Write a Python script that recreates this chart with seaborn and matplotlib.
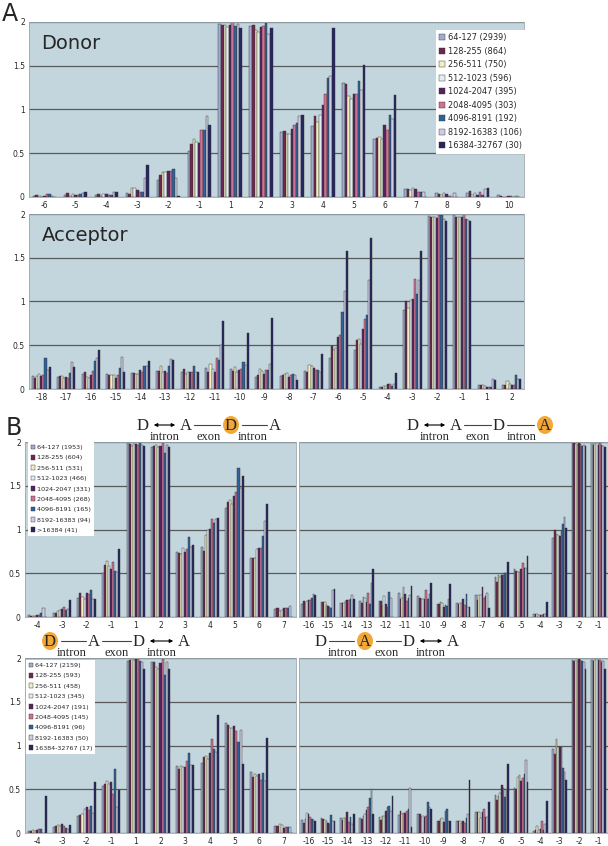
import pandas as pd
import matplotlib.pyplot as plt
import seaborn as sns
from matplotlib.patches import Ellipse, FancyArrowPatch
from matplotlib.lines import Line2D

# size bins (9 series) and their colours
colors = ['#98a8d8', '#7b1c4e', '#f8f4b8', '#dff1f5', '#5a1a6a',
          '#e06090', '#1f5fad', '#c8c8e8', '#1c1c6a']
bins = ['64-127', '128-255', '256-511', '512-1023', '1024-2047',
        '2048-4095', '4096-8191', '8192-16383', '16384-32767']
legend_a = ['2939', '864', '750', '596', '395', '303', '192', '106', '30']
legend_bt = ['1953', '604', '531', '466', '331', '268', '165', '94', '41']
legend_bb = ['2159', '593', '458', '345', '191', '145', '96', '50', '17']

# ---- panel A, donor
donor_pos = ['-6', '-5', '-4', '-3', '-2', '-1', '1', '2', '3', '4', '5', '6', '7', '8', '9', '10']
donor = [
    [0.01, 0.02, 0.01, 0.00, 0.01, 0.03, 0.03, 0.01, 0.00],
    [0.02, 0.05, 0.01, 0.03, 0.02, 0.02, 0.03, 0.04, 0.06],
    [0.02, 0.03, 0.01, 0.03, 0.03, 0.02, 0.02, 0.06, 0.06],
    [0.05, 0.03, 0.10, 0.10, 0.08, 0.06, 0.06, 0.22, 0.36],
    [0.19, 0.25, 0.29, 0.28, 0.30, 0.30, 0.32, 0.22, 0.01],
    [0.52, 0.60, 0.66, 0.63, 0.62, 0.76, 0.76, 0.92, 0.82],
    [1.98, 1.97, 1.97, 1.94, 1.96, 2.00, 1.95, 1.98, 1.93],
    [1.95, 1.96, 1.91, 1.89, 1.94, 1.95, 1.99, 1.86, 1.93],
    [0.74, 0.75, 0.72, 0.72, 0.78, 0.82, 0.85, 0.93, 0.94],
    [0.81, 0.92, 0.86, 0.94, 1.05, 1.18, 1.36, 1.38, 1.93],
    [1.30, 1.29, 1.15, 1.12, 1.18, 1.18, 1.32, 1.22, 1.51],
    [0.66, 0.67, 0.68, 0.66, 0.82, 0.77, 0.94, 0.89, 1.16],
    [0.09, 0.09, 0.08, 0.10, 0.09, 0.06, 0.06, 0.06, 0.00],
    [0.04, 0.03, 0.02, 0.04, 0.03, 0.01, 0.00, 0.04, 0.00],
    [0.04, 0.07, 0.02, 0.04, 0.02, 0.06, 0.02, 0.09, 0.10],
    [0.02, 0.01, 0.00, 0.00, 0.01, 0.01, 0.00, 0.01, 0.00],
]

# ---- panel A, acceptor
acc_pos = ['-18', '-17', '-16', '-15', '-14', '-13', '-12', '-11', '-10', '-9',
           '-8', '-7', '-6', '-5', '-4', '-3', '-2', '-1', '1', '2']
acceptor = [
    [0.15, 0.13, 0.15, 0.17, 0.15, 0.16, 0.35, 0.22, 0.25],
    [0.14, 0.15, 0.15, 0.13, 0.14, 0.13, 0.18, 0.31, 0.25],
    [0.17, 0.20, 0.14, 0.13, 0.16, 0.21, 0.32, 0.36, 0.45],
    [0.17, 0.16, 0.16, 0.16, 0.13, 0.16, 0.24, 0.37, 0.19],
    [0.18, 0.18, 0.17, 0.17, 0.22, 0.20, 0.26, 0.26, 0.32],
    [0.21, 0.21, 0.26, 0.20, 0.21, 0.18, 0.26, 0.34, 0.33],
    [0.19, 0.23, 0.17, 0.20, 0.19, 0.19, 0.26, 0.19, 0.19],
    [0.24, 0.20, 0.29, 0.23, 0.19, 0.36, 0.33, 0.50, 0.78],
    [0.23, 0.21, 0.25, 0.19, 0.22, 0.23, 0.31, 0.27, 0.64],
    [0.14, 0.16, 0.23, 0.21, 0.17, 0.22, 0.22, 0.29, 0.81],
    [0.15, 0.16, 0.17, 0.18, 0.14, 0.16, 0.17, 0.16, 0.10],
    [0.21, 0.20, 0.28, 0.26, 0.24, 0.22, 0.22, 0.20, 0.40],
    [0.35, 0.49, 0.45, 0.47, 0.59, 0.62, 0.88, 1.12, 1.58],
    [0.45, 0.56, 0.57, 0.52, 0.68, 0.80, 0.85, 1.25, 1.72],
    [0.02, 0.02, 0.03, 0.04, 0.06, 0.06, 0.04, 0.06, 0.18],
    [0.90, 1.00, 0.93, 1.02, 1.03, 1.26, 1.08, 1.24, 1.58],
    [1.98, 1.97, 1.96, 1.96, 1.95, 1.99, 1.99, 1.94, 1.92],
    [1.99, 1.96, 1.96, 1.97, 1.96, 2.00, 1.94, 1.93, 1.92],
    [0.05, 0.05, 0.05, 0.03, 0.02, 0.02, 0.02, 0.11, 0.10],
    [0.05, 0.05, 0.09, 0.06, 0.05, 0.05, 0.16, 0.12, 0.12],
]

# ---- panel B, left side (donor of upstream/downstream exon)
b_left_pos = ['-4', '-3', '-2', '-1', '1', '2', '3', '4', '5', '6', '7']
b_top_left = [
    [0.02, 0.01, 0.01, 0.01, 0.02, 0.02, 0.05, 0.10, 0.00],
    [0.05, 0.05, 0.07, 0.08, 0.09, 0.11, 0.08, 0.09, 0.20],
    [0.22, 0.27, 0.23, 0.21, 0.28, 0.26, 0.31, 0.21, 0.21],
    [0.50, 0.60, 0.64, 0.58, 0.55, 0.63, 0.53, 0.52, 0.78],
    [1.99, 1.98, 1.95, 1.98, 1.98, 1.97, 1.99, 1.97, 1.95],
    [1.94, 1.96, 1.97, 1.94, 1.96, 1.99, 1.88, 1.97, 1.94],
    [0.74, 0.73, 0.72, 0.79, 0.74, 0.78, 0.92, 0.80, 0.82],
    [0.80, 0.75, 0.94, 1.00, 1.01, 1.12, 1.08, 1.12, 1.13],
    [1.25, 1.31, 1.34, 1.29, 1.38, 1.43, 1.70, 1.48, 1.61],
    [0.67, 0.68, 0.68, 0.78, 0.79, 0.79, 0.93, 1.10, 1.29],
    [0.09, 0.10, 0.07, 0.08, 0.10, 0.10, 0.10, 0.13, 0.00],
]
b_bot_left = [
    [0.02, 0.02, 0.03, 0.02, 0.04, 0.05, 0.05, 0.00, 0.42],
    [0.07, 0.08, 0.09, 0.08, 0.10, 0.08, 0.06, 0.05, 0.09],
    [0.20, 0.21, 0.22, 0.28, 0.30, 0.26, 0.31, 0.23, 0.58],
    [0.54, 0.56, 0.60, 0.56, 0.58, 0.45, 0.73, 0.30, 0.49],
    [1.97, 1.98, 1.99, 1.98, 1.99, 1.99, 1.97, 1.95, 1.87],
    [1.95, 1.96, 1.90, 1.88, 1.94, 1.99, 1.81, 1.96, 1.87],
    [0.77, 0.73, 0.77, 0.75, 0.76, 0.82, 0.91, 0.78, 0.78],
    [0.80, 0.87, 0.88, 0.85, 0.92, 1.07, 0.96, 0.93, 1.35],
    [1.26, 1.23, 1.20, 1.20, 1.22, 1.17, 1.04, 1.18, 0.79],
    [0.70, 0.64, 0.68, 0.65, 0.68, 0.61, 0.69, 0.60, 1.09],
    [0.08, 0.08, 0.10, 0.09, 0.06, 0.07, 0.07, 0.07, 0.00],
]

# ---- panel B, right side (acceptor)
b_right_pos = ['-16', '-15', '-14', '-13', '-12', '-11', '-10', '-9',
               '-8', '-7', '-6', '-5', '-4', '-3', '-2', '-1']
b_top_right = [
    [0.15, 0.18, 0.16, 0.18, 0.20, 0.20, 0.22, 0.26, 0.25],
    [0.17, 0.17, 0.17, 0.14, 0.13, 0.12, 0.10, 0.31, 0.32],
    [0.16, 0.16, 0.16, 0.18, 0.19, 0.20, 0.21, 0.25, 0.21],
    [0.18, 0.16, 0.23, 0.22, 0.17, 0.28, 0.15, 0.39, 0.55],
    [0.18, 0.18, 0.13, 0.24, 0.15, 0.12, 0.29, 0.22, 0.00],
    [0.27, 0.21, 0.22, 0.34, 0.26, 0.18, 0.22, 0.25, 0.36],
    [0.24, 0.22, 0.21, 0.21, 0.21, 0.31, 0.21, 0.26, 0.39],
    [0.15, 0.15, 0.17, 0.16, 0.11, 0.14, 0.13, 0.21, 0.38],
    [0.16, 0.15, 0.16, 0.16, 0.21, 0.14, 0.26, 0.11, 0.11],
    [0.25, 0.20, 0.25, 0.25, 0.34, 0.22, 0.24, 0.27, 0.10],
    [0.46, 0.40, 0.48, 0.46, 0.48, 0.48, 0.50, 0.50, 0.63],
    [0.55, 0.53, 0.51, 0.52, 0.55, 0.62, 0.56, 0.56, 0.70],
    [0.03, 0.03, 0.03, 0.02, 0.02, 0.02, 0.03, 0.04, 0.17],
    [0.90, 1.00, 0.95, 0.94, 0.93, 0.98, 1.06, 1.14, 1.02],
    [2.00, 1.99, 1.98, 1.97, 1.99, 1.98, 1.96, 1.97, 1.95],
    [2.00, 1.97, 1.98, 1.99, 1.97, 1.99, 1.97, 1.96, 1.94],
]
b_bot_right = [
    [0.15, 0.12, 0.16, 0.23, 0.22, 0.18, 0.16, 0.15, 0.14],
    [0.17, 0.16, 0.15, 0.14, 0.12, 0.10, 0.21, 0.14, 0.14],
    [0.17, 0.15, 0.17, 0.17, 0.24, 0.13, 0.18, 0.10, 0.22],
    [0.17, 0.16, 0.20, 0.22, 0.26, 0.30, 0.40, 0.50, 0.22],
    [0.18, 0.15, 0.19, 0.20, 0.25, 0.30, 0.31, 0.25, 0.42],
    [0.21, 0.25, 0.22, 0.23, 0.23, 0.25, 0.27, 0.51, 0.07],
    [0.22, 0.22, 0.18, 0.19, 0.18, 0.20, 0.35, 0.30, 0.27],
    [0.14, 0.14, 0.16, 0.17, 0.13, 0.25, 0.27, 0.14, 0.14],
    [0.14, 0.14, 0.14, 0.11, 0.14, 0.12, 0.17, 0.22, 0.61],
    [0.24, 0.24, 0.24, 0.17, 0.24, 0.28, 0.18, 0.18, 0.35],
    [0.43, 0.38, 0.42, 0.46, 0.55, 0.51, 0.41, 0.50, 0.79],
    [0.52, 0.50, 0.64, 0.66, 0.60, 0.63, 0.68, 0.84, 0.58],
    [0.02, 0.03, 0.08, 0.03, 0.05, 0.14, 0.04, 0.10, 0.37],
    [0.96, 0.90, 1.07, 0.98, 0.98, 0.98, 0.74, 0.70, 0.61],
    [1.98, 1.97, 1.98, 1.97, 1.99, 1.98, 1.97, 1.95, 1.88],
    [1.98, 1.97, 1.98, 1.99, 1.98, 1.98, 1.96, 1.97, 1.87],
]

sns.set_theme(style='white')
plt.rcParams['font.family'] = ['DejaVu Sans']

W, H = 608, 846
fig = plt.figure(figsize=(W / 100, H / 100), dpi=100)
BG = '#c3d5dd'


def box(x0, y0, x1, y1):
    # pixel box (top-left origin) -> axes
    return fig.add_axes([x0 / W, 1 - y1 / H, (x1 - x0) / W, (y1 - y0) / H])


def to_long(pos, rows):
    recs = []
    for p, row in zip(pos, rows):
        for b, v in zip(bins, row):
            recs.append({'pos': p, 'bin': b, 'val': v})
    return pd.DataFrame(recs)


def panel(rect, pos, rows, ylabels=True, legend=None, leg_box=None, leg_fs=5.0, leg_sp=0.6):
    ax = box(*rect)
    ax.set_facecolor(BG)
    df = to_long(pos, rows)
    sns.barplot(data=df, x='pos', y='val', hue='bin', order=pos, hue_order=bins,
                palette=colors, width=0.75, gap=0, errorbar=None,
                edgecolor='#333333', linewidth=0.3, ax=ax, legend=legend is not None)
    ax.set_ylim(0, 2)
    ax.set_xlim(-0.5, len(pos) - 0.5)
    ax.set_yticks([0, 0.5, 1, 1.5, 2])
    ax.set_yticklabels(['0', '0.5', '1', '1.5', '2'] if ylabels else [])
    ax.yaxis.grid(True, color='#5a5a5a', lw=0.9)
    ax.set_axisbelow(True)
    ax.set_xlabel('')
    ax.set_ylabel('')
    ax.tick_params(length=0, labelsize=5.5, pad=3)
    for s in ax.spines.values():
        s.set_color('#9aa8ae')
        s.set_linewidth(0.6)
    if legend is not None:
        h, _ = ax.get_legend_handles_labels()
        lx, ly = leg_box
        lg = ax.legend(h, legend, loc='upper left',
                       bbox_to_anchor=((lx - rect[0]) / (rect[2] - rect[0]),
                                       1 - (ly - rect[1]) / (rect[3] - rect[1])),
                       fontsize=leg_fs, frameon=True, fancybox=False,
                       framealpha=1, edgecolor='white', borderpad=0.4,
                       handlelength=0.75, handleheight=0.75, handletextpad=0.3,
                       labelspacing=leg_sp, borderaxespad=0)
        lg.get_frame().set_linewidth(0)
    return ax


lab_a = [f'{b} ({n})' for b, n in zip(bins, legend_a)]
lab_bt = [f'{b} ({n})' for b, n in zip(bins[:8], legend_bt[:8])] + [f'>16384 ({legend_bt[8]})']
lab_bb = [f'{b} ({n})' for b, n in zip(bins, legend_bb)]

ax1 = panel((29, 22, 524, 197), donor_pos, donor, legend=lab_a, leg_box=(436, 30),
            leg_fs=5.9, leg_sp=0.55)
ax1.text(0.025, 0.93, 'Donor', transform=ax1.transAxes, fontsize=14, va='top')
ax2 = panel((29, 214, 524, 389), acc_pos, acceptor)
ax2.text(0.025, 0.93, 'Acceptor', transform=ax2.transAxes, fontsize=14, va='top')

panel((25, 442, 296, 617), b_left_pos, b_top_left, legend=lab_bt, leg_box=(28, 442),
      leg_fs=4.6, leg_sp=0.75)
panel((299, 442, 608, 617), b_right_pos, b_top_right, ylabels=False)
panel((25, 658, 296, 833), b_left_pos, b_bot_left, legend=lab_bb, leg_box=(26, 660),
      leg_fs=4.6, leg_sp=0.75)
panel((299, 658, 608, 833), b_right_pos, b_bot_right, ylabels=False)

fig.text(2 / W, 1 - 2 / H, 'A', fontsize=17, va='top', ha='left')
fig.text(6 / W, 1 - 416 / H, 'B', fontsize=17, va='top', ha='left')


# ---- exon/intron diagrams above panel B
def P(x, y):
    return (x / W, 1 - y / H)


SERIF = 'Liberation Serif'


def letter(x, y, s, hl=False):
    if hl:
        fig.add_artist(Ellipse(P(x, y), 16 / W, 18 / H, transform=fig.transFigure,
                               fc='#f2a838', ec='none'))
    fig.text(*P(x, y + 1), s, family=SERIF, fontsize=12, ha='center', va='center')


def line(x0, x1, y):
    fig.add_artist(Line2D([x0 / W, x1 / W], [1 - y / H] * 2, transform=fig.transFigure,
                          color='#444444', lw=0.8))


def arrow(x0, x1, y):
    fig.add_artist(FancyArrowPatch(P(x0, y), P(x1, y), transform=fig.transFigure,
                                   arrowstyle='<|-|>', mutation_scale=5, lw=0.8,
                                   color='black'))


def word(x, y, s):
    fig.text(*P(x, y), s, family=SERIF, fontsize=9, ha='center', va='center')


def diagram(y, xs, hl, joins, words):
    # xs: letter x positions, joins: 'a' arrow or 'l' line between letters
    for i, (x, s) in enumerate(zip(xs, 'DADA')):
        letter(x, y, s, hl == i)
    for i, j in enumerate(joins):
        x0 = xs[i] + (11 if hl == i else 8)
        x1 = xs[i + 1] - (11 if hl == i + 1 else 8)
        (arrow if j == 'a' else line)(x0, x1, y)
    for i in range(3):
        word((xs[i] + xs[i + 1]) / 2, y + 12, words[i])


diagram(425, [143, 186, 231, 275], 2, 'all', ['intron', 'exon', 'intron'])
diagram(425, [413, 456, 499, 545], 3, 'all', ['intron', 'exon', 'intron'])
diagram(641, [50, 94, 139, 184], 0, 'lla', ['intron', 'exon', 'intron'])
diagram(641, [321, 365, 409, 453], 1, 'lla', ['intron', 'exon', 'intron'])

fig.savefig('out.png', dpi=100, facecolor='white')
